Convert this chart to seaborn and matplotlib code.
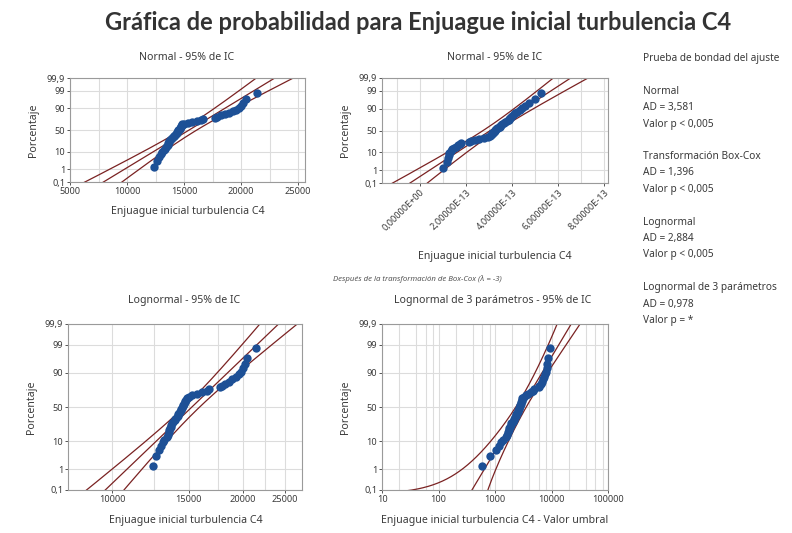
import numpy as np
import pandas as pd
import matplotlib
matplotlib.use("Agg")
import matplotlib.pyplot as plt
import seaborn as sns
from statistics import NormalDist
from matplotlib.ticker import FixedLocator, FixedFormatter, NullFormatter

# ---------------- data ----------------
turbulencia = [12400, 12600, 12830, 13000, 13100, 13200, 13350, 13450, 13500, 13550,
               13600, 13650, 13700, 13750, 13850, 13950, 14000, 14100, 14150, 14200,
               14250, 14350, 14400, 14450, 14500, 14550, 14600, 14650, 14700, 14750,
               14800, 14850, 15000, 15300, 15700, 16100, 16500, 16700, 17700, 17900,
               18200, 18600, 18900, 19300, 19550, 19850, 20000, 20200, 20450, 21400]
lambda_boxcox = -3
umbral = 11800          # threshold of the 3-parameter lognormal fit
ee_umbral = 160         # standard error of the threshold

titulo = "Gráfica de probabilidad para Enjuague inicial turbulencia C4"
subtitulos = ["Normal - 95% de IC", "Normal - 95% de IC",
              "Lognormal - 95% de IC", "Lognormal de 3 parámetros - 95% de IC"]
etiqueta_x = "Enjuague inicial turbulencia C4"
etiqueta_x_umbral = "Enjuague inicial turbulencia C4 - Valor umbral"
nota_boxcox = "Después de la transformación de Box-Cox (λ = -3)"
etiqueta_y = "Porcentaje"

pct_ticks = [0.1, 1, 10, 50, 90, 99, 99.9]
pct_labels = ["0,1", "1", "10", "50", "90", "99", "99,9"]

x_ticks_normal = [5000, 10000, 15000, 20000, 25000]
x_ticks_boxcox = [0.0, 2e-13, 4e-13, 6e-13, 8e-13]
x_labels_boxcox = ["0,00000E+00", "2,00000E-13", "4,00000E-13", "6,00000E-13", "8,00000E-13"]
x_ticks_lognormal = [10000, 15000, 20000, 25000]
x_ticks_3p = [10, 100, 1000, 10000, 100000]

bondad_titulo = "Prueba de bondad del ajuste"
bondad_nombres = ["Normal", "Transformación Box-Cox", "Lognormal", "Lognormal de 3 parámetros"]
bondad_ad = ["3,581", "1,396", "2,884", "0,978"]
bondad_p = ["< 0,005", "< 0,005", "< 0,005", "= *"]

# ---------------- helpers ----------------
ND = NormalDist()
_inv = np.vectorize(ND.inv_cdf, otypes=[float])
_cdf = np.vectorize(ND.cdf, otypes=[float])


def fwd(p):
    p = np.clip(np.asarray(p, dtype=float) / 100.0, 1e-9, 1 - 1e-9)
    return _inv(p)


def inv(z):
    return _cdf(np.asarray(z, dtype=float)) * 100.0


COL_PT = "#1d5096"
COL_LN = "#7a2222"
COL_TXT = "#3a3a3a"
COL_GRID = "#dcdcdc"
COL_SPINE = "#9a9a9a"
FONT = "Noto Sans"
plt.rcParams["font.family"] = [FONT, "DejaVu Sans"]

x = np.sort(np.asarray(turbulencia, dtype=float))
n = len(x)
rank_pct = (np.arange(1, n + 1) - 0.3) / (n + 0.4) * 100.0
z_grid = np.linspace(-4.2, 4.2, 600)
p_grid = _cdf(z_grid) * 100.0
Z = 1.959964


def normal_fit(v):
    mu, s = v.mean(), v.std(ddof=1)
    xp = mu + s * z_grid
    se = s * np.sqrt((1 + z_grid ** 2 / 2) / n)
    return xp, xp - Z * se, xp + Z * se


W, H = 792, 533
fig = plt.figure(figsize=(W / 100, H / 100), dpi=100)
fig.patch.set_facecolor("white")


def make_ax(l, r, t, b):
    return fig.add_axes([l / W, 1 - b / H, (r - l) / W, (b - t) / H])


def style(ax, xlim):
    ax.set_yscale("function", functions=(fwd, inv))
    ax.set_ylim(0.1, 99.9)
    ax.set_xlim(*xlim)
    ax.yaxis.set_major_locator(FixedLocator(pct_ticks))
    ax.yaxis.set_major_formatter(FixedFormatter(pct_labels))
    ax.yaxis.set_minor_locator(FixedLocator([]))
    ax.grid(True, which="both", axis="x", color=COL_GRID, lw=0.8)
    ax.grid(True, which="major", axis="y", color=COL_GRID, lw=0.8)
    ax.set_axisbelow(True)
    for s in ax.spines.values():
        s.set_color(COL_SPINE)
        s.set_linewidth(0.8)
    ax.tick_params(axis="both", which="major", labelsize=6.6, colors=COL_TXT,
                   length=2, width=0.6, pad=1.5)
    ax.tick_params(axis="both", which="minor", length=0)
    ax.set_xlabel("")
    ax.set_ylabel(etiqueta_y, fontsize=7.6, color=COL_TXT, labelpad=6)


def draw(ax, pts, lines):
    for xv in lines:
        df = pd.DataFrame({"x": xv, "p": p_grid}).dropna()
        sns.lineplot(data=df, x="x", y="p", sort=False, estimator=None,
                     color=COL_LN, lw=0.9, ax=ax, legend=False)
    sns.scatterplot(x=pts, y=rank_pct, color=COL_PT, s=36, linewidth=0,
                    ax=ax, zorder=3, legend=False)


# ---- top-left: normal ----
ax1 = make_ax(70, 305, 78, 182)
ax1.set_yscale("function", functions=(fwd, inv))
xp, lo, hi = normal_fit(x)
draw(ax1, x, [lo, xp, hi])
style(ax1, (5000, 25600))
ax1.xaxis.set_major_locator(FixedLocator(x_ticks_normal))
ax1.xaxis.set_major_formatter(FixedFormatter([str(v) for v in x_ticks_normal]))
ax1.xaxis.set_minor_locator(FixedLocator(np.arange(5000, 27500, 2500)))

# ---- top-right: normal after Box-Cox ----
ax2 = make_ax(382, 608, 78, 183)
ax2.set_yscale("function", functions=(fwd, inv))
t = np.sort(x ** lambda_boxcox)
tp, tlo, thi = normal_fit(t)
draw(ax2, t, [tlo, tp, thi])
style(ax2, (-1.65e-13, 8.17e-13))
ax2.xaxis.set_major_locator(FixedLocator(x_ticks_boxcox))
ax2.xaxis.set_major_formatter(FixedFormatter(x_labels_boxcox))
ax2.xaxis.set_minor_locator(FixedLocator(np.arange(-1e-13, 8.5e-13, 1e-13)))
for lab in ax2.get_xticklabels():
    lab.set_rotation(45)
    lab.set_ha("right")
    lab.set_rotation_mode("anchor")

# ---- bottom-left: lognormal ----
ax3 = make_ax(68, 302, 324, 490)
ax3.set_yscale("function", functions=(fwd, inv))
ax3.set_xscale("log")
lx = np.log(x)
mu_l, s_l = lx.mean(), lx.std(ddof=1)
u = mu_l + s_l * z_grid
su = s_l * np.sqrt((1 + z_grid ** 2 / 2) / n)
draw(ax3, x, [np.exp(u - Z * su), np.exp(u), np.exp(u + Z * su)])
style(ax3, (7925, 27350))
ax3.xaxis.set_major_locator(FixedLocator(x_ticks_lognormal))
ax3.xaxis.set_major_formatter(FixedFormatter([str(v) for v in x_ticks_lognormal]))
ax3.xaxis.set_minor_locator(FixedLocator(np.arange(10000, 28000, 2500)))
ax3.xaxis.set_minor_formatter(NullFormatter())

# ---- bottom-right: 3-parameter lognormal ----
ax4 = make_ax(382, 608, 324, 490)
ax4.set_yscale("function", functions=(fwd, inv))
ax4.set_xscale("log")
d = x - umbral
ld = np.log(d)
mu3, s3 = ld.mean(), ld.std(ddof=0)
w = np.exp(mu3 + s3 * z_grid)
su3 = s3 * np.sqrt((1 + z_grid ** 2 / 2) / n)
se3 = np.sqrt(ee_umbral ** 2 + (w * su3) ** 2)
lo3 = w - Z * se3
lo3 = np.where(lo3 > 0, lo3, np.nan)
draw(ax4, d, [lo3, w, w + Z * se3])
style(ax4, (10, 100000))
ax4.xaxis.set_major_locator(FixedLocator(x_ticks_3p))
ax4.xaxis.set_major_formatter(FixedFormatter([str(v) for v in x_ticks_3p]))
minors = [m * 10 ** k for k in range(1, 5) for m in (2, 4, 6, 8)]
ax4.xaxis.set_minor_locator(FixedLocator(minors))
ax4.xaxis.set_minor_formatter(NullFormatter())

# ---------------- texts ----------------
fig.text(418 / W, 1 - 22 / H, titulo, ha="center", va="center", fontsize=17,
         fontweight="bold", color="#333333", family=["Lato", "DejaVu Sans"])
for (cx, cy), s in zip([(187, 58), (495, 58), (184, 301), (493, 301)], subtitulos):
    fig.text(cx / W, 1 - cy / H, s, ha="center", va="center", fontsize=7.6, color=COL_TXT)
fig.text(188 / W, 1 - 211 / H, etiqueta_x, ha="center", va="center", fontsize=7.6, color=COL_TXT)
fig.text(495 / W, 1 - 257 / H, etiqueta_x, ha="center", va="center", fontsize=7.6, color=COL_TXT)
fig.text(417 / W, 1 - 279 / H, nota_boxcox, ha="center", va="center", fontsize=5.6,
         style="italic", color="#555555")
fig.text(186 / W, 1 - 520 / H, etiqueta_x, ha="center", va="center", fontsize=7.6, color=COL_TXT)
fig.text(495 / W, 1 - 520 / H, etiqueta_x_umbral, ha="center", va="center", fontsize=7.6, color=COL_TXT)

FS_R = 7.3
fig.text(643 / W, 1 - 59 / H, bondad_titulo, ha="left", va="center", fontsize=FS_R, color=COL_TXT)
y0 = 91
for i, (nm, ad, pv) in enumerate(zip(bondad_nombres, bondad_ad, bondad_p)):
    yy = y0 + i * 65.5
    fig.text(643 / W, 1 - yy / H, nm, ha="left", va="center", fontsize=FS_R, color=COL_TXT)
    fig.text(643 / W, 1 - (yy + 16.5) / H, "AD = " + ad, ha="left", va="center", fontsize=FS_R, color=COL_TXT)
    fig.text(643 / W, 1 - (yy + 33) / H, "Valor p " + pv, ha="left", va="center", fontsize=FS_R, color=COL_TXT)

fig.savefig("out.png", dpi=100, facecolor="white")
